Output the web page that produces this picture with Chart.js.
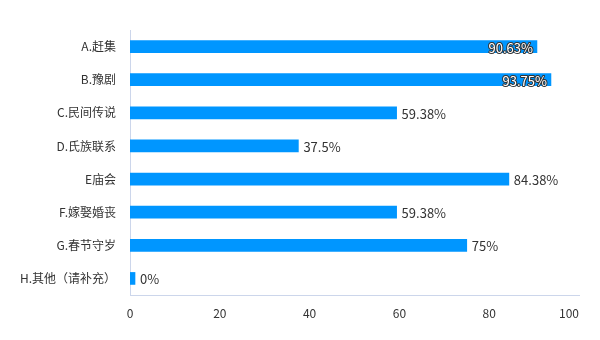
<!DOCTYPE html>
<html><head><meta charset="utf-8">
<script src="https://cdn.jsdelivr.net/npm/chart.js@4"></script>
<style>html,body{margin:0;padding:0;background:#fff}#wrap{width:600px;height:340px}</style>
</head><body><div id="wrap"><canvas id="c"></canvas></div>
<script>
const categories = ["A.赶集","B.豫剧","C.民间传说","D.氏族联系","E庙会","F.嫁娶婚丧","G.春节守岁","H.其他（请补充）"];
const values = [90.63, 93.75, 59.38, 37.5, 84.38, 59.38, 75, 0];
const valueLabels = ["90.63%","93.75%","59.38%","37.5%","84.38%","59.38%","75%","0%"];
const xTicks = [0, 20, 40, 60, 80, 100];

const FONT = '"Noto Sans CJK SC","Noto Sans",sans-serif';

const labelPlugin = {
  id: 'vlabels',
  beforeDraw(chart) {
    const xs = chart.scales.x;
    const items = xs.getLabelItems();
    if (items.length) {
      const last = items[items.length - 1];
      last.options.textAlign = 'right';
    }
  },
  afterDatasetsDraw(chart) {
    const ctx = chart.ctx;
    const meta = chart.getDatasetMeta(0);
    const area = chart.chartArea;
    ctx.save();
    ctx.font = '13px ' + FONT;
    ctx.textBaseline = 'middle';
    meta.data.forEach((bar, i) => {
      const txt = valueLabels[i];
      const w = ctx.measureText(txt).width;
      const xEnd = bar.x;
      if (xEnd + 5 + w > area.right) {
        ctx.textAlign = 'right';
        ctx.lineWidth = 2;
        ctx.strokeStyle = '#333';
        ctx.lineJoin = 'round';
        ctx.strokeText(txt, xEnd - 4, bar.y + 1);
        ctx.fillStyle = '#fff';
        ctx.fillText(txt, xEnd - 4, bar.y + 1);
      } else {
        ctx.textAlign = 'left';
        ctx.fillStyle = '#333';
        ctx.fillText(txt, xEnd + 5, bar.y + 1);
      }
    });
    ctx.restore();
  }
};

new Chart(document.getElementById('c'), {
  type: 'bar',
  data: {
    labels: categories,
    datasets: [{
      data: values,
      backgroundColor: '#0096ff',
      barThickness: 12,
      minBarLength: 5
    }]
  },
  options: {
    indexAxis: 'y',
    responsive: true,
    maintainAspectRatio: false,
    animation: false,
    layout: { padding: { top: 30, right: 20, left: 0, bottom: 0 } },
    plugins: { legend: { display: false }, tooltip: { enabled: false } },
    scales: {
      x: {
        min: 0, max: 100,
        afterBuildTicks(s) { s.ticks = xTicks.map(v => ({ value: v })); },
        afterFit(s) { s.height = 45; },
        grid: { display: false, drawTicks: false },
        border: { display: true, color: '#ccd6eb', width: 1 },
        ticks: { padding: 11, color: '#333', font: { size: 12, family: FONT } }
      },
      y: {
        afterFit(s) { s.width = 130; },
        grid: { display: false, drawTicks: false },
        border: { display: true, color: '#ccd6eb', width: 1 },
        ticks: { padding: 14, color: '#333', font: { size: 12, family: FONT } }
      }
    }
  },
  plugins: [labelPlugin]
});
</script>
</body></html>
